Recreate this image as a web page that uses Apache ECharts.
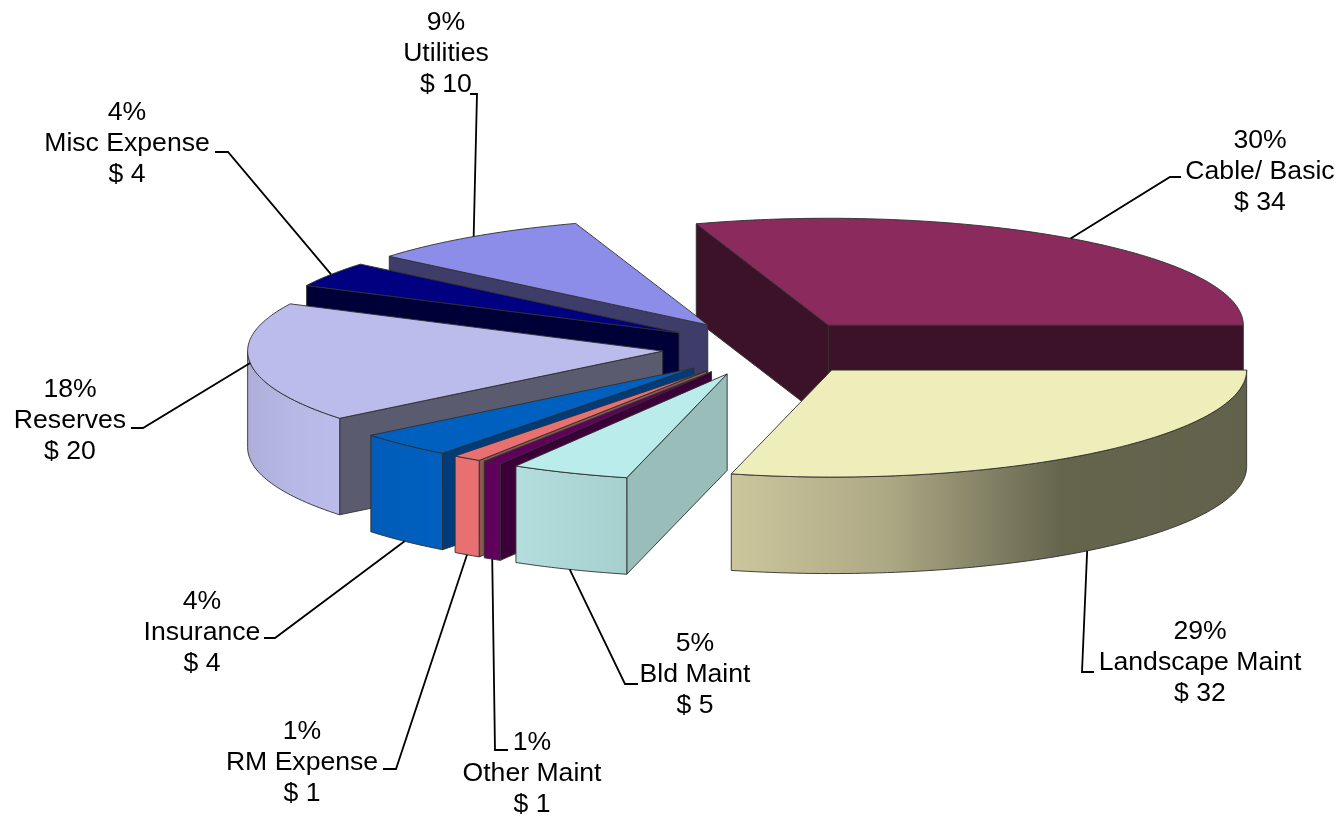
<!DOCTYPE html>
<html>
<head>
<meta charset="utf-8">
<style>html,body{margin:0;padding:0;background:#fff}#c{width:1341px;height:817px}</style>
<script src="https://cdn.jsdelivr.net/npm/echarts@6/dist/echarts.min.js"></script>
</head>
<body>
<div id="c"></div>
<script>
// Data: counter-clockwise from 3 o'clock (also back-to-front paint order)
const categories = ['Cable/ Basic','Utilities','Misc Expense','Reserves','Insurance','RM Expense','Other Maint','Bld Maint','Landscape Maint'];
const amounts = [33.35, 9.7, 4.2, 20, 4.25, 1.25, 0.8, 5.1, 31.95];
const percentLabels = ['30%','9%','4%','18%','4%','1%','1%','5%','29%'];
const amountLabels = ['$ 34','$ 10','$ 4','$ 20','$ 4','$ 1','$ 1','$ 5','$ 32'];

// Styles
const topColors = ['#8b2a5c','#8b8de8','#000080','#bcbcec','#0060c0','#e87070','#60005c','#bbecec','#eeeebb'];
const cutColors = ['#3c1228','#3e3c69','#000039','#5b5b70','#003c7c','#8a5a50','#3c0038','#99bdb9','#62624c'];
const rimStops = [
  [[0,'#6b1f47'],[1,'#6b1f47']],
  [[0,'#5f60a8'],[1,'#5f60a8']],
  [[0,'#000060'],[1,'#000060']],
  [[0,'#aeaed8'],[0.5,'#b8b8e6'],[1,'#bcbcec']],
  [[0,'#005cb8'],[1,'#0060c0']],
  [[0,'#e87070'],[1,'#e87070']],
  [[0,'#60005c'],[1,'#60005c']],
  [[0,'#b4dede'],[1,'#a6d0ce']],
  [[0,'#cbc69c'],[0.3,'#aea985'],[0.64,'#65654e'],[1,'#62624c']]
];
// Layout
const CX = 767, CY = 348, RX = 415, RY = 107, DEPTH = 96.5, EX = 105, EY = 28;
const labelCenters = [[1260,171.7],[446,53.7],[127,144],[70,420.5],[202,632.7],[302,762.7],[532,773.7],[695,674.7],[1200,662.7]];
const leaderBends = [
  [[1170,177],[1181,177]],
  [[477,94],[470,94]],
  [[228,152],[215,152]],
  [[143,428],[131,428]],
  [[275,638],[264,638]],
  [[396,769],[383,769]],
  [[495,750],[508,750]],
  [[625,684],[638,684]],
  [[1082,672],[1094,672]]
];

const total = amounts.reduce((a, b) => a + b, 0);
const toRad = v => v / total * Math.PI * 2;
const angleEnds = [];
amounts.reduce((acc, v, i) => { const next = acc + toRad(v); angleEnds[i] = [acc, next]; return next; }, 0);

function renderSlice(params, api) {
  const i = api.value(0);
  // angles in screen space, growing clockwise from 3 o'clock
  const a0 = -angleEnds[i][1], a1 = -angleEnds[i][0];
  const mid = (a0 + a1) / 2;
  const ax = CX + EX * Math.cos(mid), ay = CY + EY * Math.sin(mid);
  const rim = a => [ax + RX * Math.cos(a), ay + RY * Math.sin(a)];
  const arc = [];
  const steps = Math.max(4, Math.ceil((a1 - a0) / 0.02));
  for (let k = 0; k <= steps; k++) arc.push(rim(a0 + (a1 - a0) * k / steps));
  const down = p => [p[0], p[1] + DEPTH];
  const edge = { stroke: '#2f2f2f', lineWidth: 0.9, lineJoin: 'round' };
  const poly = (pts, fill) => ({ type: 'polygon', shape: { points: pts }, style: Object.assign({ fill }, edge) });
  const children = [];
  const apex = [ax, ay];
  // cut faces that look toward the viewer
  if (Math.cos(a0) < 0) {
    const r = arc[0];
    children.push(poly([apex, r, down(r), down(apex)], cutColors[i]));
  }
  if (Math.cos(a1) > 0) {
    const r = arc[arc.length - 1];
    children.push(poly([apex, r, down(r), down(apex)], cutColors[i]));
  }
  // outer wall
  const wallArc = arc.filter(p => p[1] >= ay - 0.001);
  if (wallArc.length > 1) {
    const wall = wallArc.concat(wallArc.slice().reverse().map(down));
    children.push(poly(wall, {
      type: 'linear', x: 0, y: 0, x2: 1, y2: 0,
      colorStops: rimStops[i].map(s => ({ offset: s[0], color: s[1] }))
    }));
  }
  // top face
  children.push(poly([apex].concat(arc), topColors[i]));
  // leader line
  const m = rim(mid);
  const start = Math.sin(mid) > 0.3 ? down(m) : m;
  children.push({
    type: 'polyline', z2: 50,
    shape: { points: [start, leaderBends[i][0], leaderBends[i][1]] },
    style: { fill: null, stroke: '#000', lineWidth: 1.8 }
  });
  // label
  children.push({
    type: 'text', z2: 60,
    x: labelCenters[i][0], y: labelCenters[i][1],
    style: {
      text: percentLabels[i] + '\n' + categories[i] + '\n' + amountLabels[i],
      fill: '#000', font: '26.6px "Liberation Sans", Arial, sans-serif',
      lineHeight: 31, align: 'center', verticalAlign: 'middle'
    }
  });
  return { type: 'group', children };
}

const chart = echarts.init(document.getElementById('c'), null, { width: 1341, height: 817 });
chart.setOption({
  animation: false,
  backgroundColor: '#fff',
  series: [{
    type: 'custom',
    coordinateSystem: 'none',
    clip: false,
    renderItem: renderSlice,
    encode: { value: 1, itemName: 2 },
    data: amounts.map((v, i) => [i, v, categories[i]])
  }]
});
</script>
</body>
</html>
